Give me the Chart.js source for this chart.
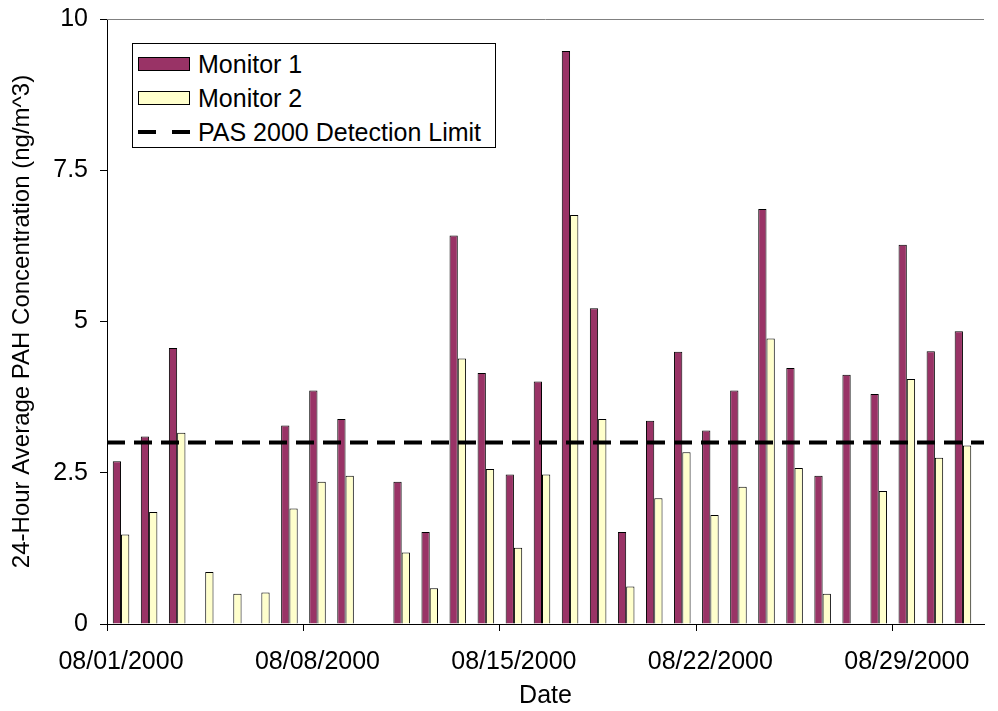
<!DOCTYPE html>
<html>
<head>
<meta charset="utf-8">
<title>24-Hour Average PAH Concentration</title>
<script src="https://cdn.jsdelivr.net/npm/chart.js@4/dist/chart.umd.min.js"></script>
<style>
  body { margin: 0; background: #fff; }
  #wrap { position: relative; width: 998px; height: 711px; }
  #legend {
    position: absolute; left: 132px; top: 43px; width: 364px; height: 105px;
    box-sizing: border-box; border: 1px solid #000; background: #fff;
    padding-top: 3px; font: 25px "Liberation Sans", Arial, sans-serif; color: #000;
  }
  .row { display: flex; align-items: center; height: 34px; white-space: nowrap; }
  .swatch { width: 52px; height: 14px; box-sizing: border-box; border: 1px solid #000; margin: 0 8px 0 5px; flex: none; }
  .swatch.line { border: none; }
</style>
</head>
<body>
<div id="wrap">
  <canvas id="pahChart" width="998" height="711"></canvas>
  <div id="legend"></div>
</div>
<script>
const dates = [
  '08/01/2000', '08/02/2000', '08/03/2000', '08/04/2000', '08/05/2000', '08/06/2000', '08/07/2000',
  '08/08/2000', '08/09/2000', '08/10/2000', '08/11/2000', '08/12/2000', '08/13/2000', '08/14/2000',
  '08/15/2000', '08/16/2000', '08/17/2000', '08/18/2000', '08/19/2000', '08/20/2000', '08/21/2000',
  '08/22/2000', '08/23/2000', '08/24/2000', '08/25/2000', '08/26/2000', '08/27/2000', '08/28/2000',
  '08/29/2000', '08/30/2000', '08/31/2000'
];
const monitor1 = [2.69, 3.10, 4.56, null, null, null, 3.28, 3.86, 3.39, null, 2.35, 1.52, 6.42, 4.15, 2.47, 4.01,
  9.47, 5.22, 1.52, 3.36, 4.50, 3.20, 3.86, 6.86, 4.23, 2.45, 4.12, 3.80, 6.27, 4.51, 4.84];
const monitor2 = [1.48, 1.85, 3.16, 0.86, 0.50, 0.52, 1.91, 2.35, 2.45, null, 1.18, 0.59, 4.39, 2.56, 1.26, 2.47,
  6.76, 3.39, 0.62, 2.08, 2.84, 1.80, 2.27, 4.72, 2.58, 0.50, null, 2.20, 4.05, 2.75, 2.95];
const detectionLimit = 3;
const yTicks = [0, 2.5, 5, 7.5, 10];
const xTickDays = [0, 7, 14, 21, 28];
const xMax = 31.25;

const FONT = '"Liberation Sans", Arial, sans-serif';
Chart.defaults.font.family = FONT;
Chart.defaults.color = '#000';

// each day sits in the middle of its one-day slot
const toPoints = arr => arr.map((v, i) => ({ x: i + 0.5, y: v }));

const topBorder = {
  id: 'topBorder',
  afterDraw(chart) {
    const { ctx, chartArea } = chart;
    ctx.save();
    ctx.strokeStyle = '#808080';
    ctx.lineWidth = 1;
    ctx.beginPath();
    ctx.moveTo(chartArea.left, chartArea.top + 0.5);
    ctx.lineTo(chartArea.right, chartArea.top + 0.5);
    ctx.stroke();
    ctx.restore();
  }
};

// fixed box sizes, no extra padding from the tick labels
const fixBox = size => axis => {
  if (axis.isHorizontal()) axis.height = size; else axis.width = size;
  axis.paddingTop = axis.paddingBottom = axis.paddingLeft = axis.paddingRight = 0;
};

const ctx = document.getElementById('pahChart').getContext('2d');
const chart = new Chart(ctx, {
  type: 'bar',
  data: {
    datasets: [{
      label: 'Monitor 1',
      data: toPoints(monitor1),
      backgroundColor: '#993366',
      borderColor: '#000',
      borderWidth: 1,
      order: 1
    }, {
      label: 'Monitor 2',
      data: toPoints(monitor2),
      backgroundColor: '#FFFFCC',
      borderColor: '#000',
      borderWidth: 1,
      order: 1
    }, {
      type: 'line',
      label: 'PAS 2000 Detection Limit',
      data: [{ x: 0, y: detectionLimit }, { x: xMax, y: detectionLimit }],
      borderColor: '#000',
      borderWidth: 4,
      borderDash: [18, 9],
      pointRadius: 0,
      fill: false,
      order: 0
    }]
  },
  options: {
    responsive: false,
    animation: false,
    devicePixelRatio: 1,
    categoryPercentage: 0.59,
    barPercentage: 1.0,
    layout: { padding: { top: 19, right: 14, left: 0, bottom: 0 } },
    plugins: {
      legend: { display: false },
      tooltip: { enabled: false }
    },
    scales: {
      x: {
        type: 'linear',
        min: 0,
        max: xMax,
        offset: false,
        afterBuildTicks: axis => { axis.ticks = xTickDays.map(v => ({ value: v })); },
        afterFit: fixBox(87),
        ticks: {
          callback: v => dates[v],
          labelOffset: 14,
          padding: 16,
          maxRotation: 0,
          font: { size: 25 }
        },
        grid: { drawOnChartArea: false, offset: false, tickLength: 7, color: '#000' },
        border: { display: true, color: '#000', width: 1 },
        title: { display: true, text: 'Date', font: { size: 25 }, padding: { top: 0, bottom: 0 } }
      },
      y: {
        min: 0,
        max: 10,
        afterBuildTicks: axis => { axis.ticks = yTicks.map(v => ({ value: v })); },
        afterFit: fixBox(107),
        ticks: { callback: v => String(v), padding: 12, font: { size: 25 } },
        grid: { drawOnChartArea: false, tickLength: 7, color: '#000' },
        border: { display: true, color: '#000', width: 1 },
        title: {
          display: true,
          text: '24-Hour Average PAH Concentration (ng/m^3)',
          font: { size: 24 },
          padding: { top: 8, bottom: 0 }
        }
      }
    }
  },
  plugins: [topBorder]
});

// legend box drawn inside the plot, as in the original
function buildLegend() {
  const box = document.getElementById('legend');
  box.innerHTML = '';
  chart.data.datasets.forEach(ds => {
    const row = document.createElement('div');
    row.className = 'row';
    let sw;
    if (ds.type === 'line') {
      sw = document.createElementNS('http://www.w3.org/2000/svg', 'svg');
      sw.setAttribute('class', 'swatch line');
      sw.setAttribute('width', '52');
      sw.setAttribute('height', '14');
      sw.innerHTML = '<line x1="0" y1="7" x2="52" y2="7" stroke="' + ds.borderColor +
        '" stroke-width="4" stroke-dasharray="18 16"/>';
    } else {
      sw = document.createElement('span');
      sw.className = 'swatch';
      sw.style.background = ds.backgroundColor;
    }
    const txt = document.createElement('span');
    txt.textContent = ds.label;
    row.appendChild(sw);
    row.appendChild(txt);
    box.appendChild(row);
  });
}
buildLegend();
</script>
</body>
</html>
